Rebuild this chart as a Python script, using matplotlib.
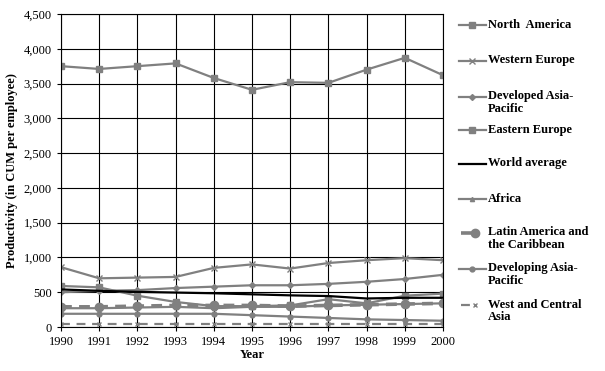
import matplotlib.pyplot as plt
from matplotlib.lines import Line2D
from matplotlib.ticker import FuncFormatter

years = list(range(1990, 2001))

north_america = [3750, 3710, 3750, 3790, 3580, 3410, 3520, 3510, 3700, 3870, 3620]
western_europe = [860, 700, 710, 720, 850, 900, 840, 920, 960, 990, 960]
developed_ap = [500, 520, 530, 560, 580, 600, 600, 620, 650, 690, 750]
eastern_europe = [590, 570, 450, 360, 300, 300, 310, 400, 340, 450, 480]
world_average = [540, 520, 505, 495, 485, 470, 455, 445, 410, 420, 420]
africa = [270, 270, 280, 290, 270, 290, 290, 310, 320, 330, 340]
latin_america = [290, 290, 300, 310, 310, 310, 300, 310, 320, 330, 340]
developing_ap = [190, 190, 190, 190, 190, 170, 150, 130, 110, 100, 90]
west_central_asia = [45, 45, 45, 45, 45, 45, 45, 45, 45, 45, 45]

labels = ['North  America', 'Western Europe', 'Developed Asia-\nPacific',
          'Eastern Europe', 'World average', 'Africa',
          'Latin America and\nthe Caribbean', 'Developing Asia-\nPacific',
          'West and Central\nAsia']

gray = '#808080'
# (values, color, linestyle, linewidth, marker, markersize)
series = [
    (north_america, gray, '-', 1.6, 's', 5),
    (western_europe, gray, '-', 1.6, 'x', 4),
    (developed_ap, gray, '-', 1.6, 'D', 3),
    (eastern_europe, gray, '-', 1.6, 's', 5),
    (world_average, 'black', '-', 1.6, None, 0),
    (africa, gray, '-', 1.6, '^', 3),
    (latin_america, gray, (0, (3, 2)), 2.6, 'o', 6),
    (developing_ap, gray, '-', 1.6, 'o', 3.5),
    (west_central_asia, gray, (0, (4, 3)), 1.6, 'x', 3),
]

plt.rcParams['font.family'] = ['Liberation Serif', 'DejaVu Serif']

fig = plt.figure(figsize=(6.05, 3.71), dpi=100)
ax = fig.add_axes([61/605, 44/371, 382/605, 313/371])

for vals, col, ls, lw, mk, ms in series:
    ax.plot(years, vals, color=col, linestyle=ls, linewidth=lw,
            marker=mk, markersize=ms, markeredgecolor=col, markerfacecolor=col)

ax.set_xlim(1990, 2000)
ax.set_ylim(0, 4500)
ax.set_xticks(years)
ax.set_yticks(range(0, 4501, 500))
ax.yaxis.set_major_formatter(FuncFormatter(lambda v, p: f'{int(v):,}'))
ax.grid(True, color='black', linewidth=0.8)
ax.set_axisbelow(True)
for s in ax.spines.values():
    s.set_color('black')
    s.set_linewidth(0.8)
ax.tick_params(direction='out', length=3, labelsize=9, color='black')
ax.set_xlabel('Year', fontsize=9, fontweight='bold', labelpad=1)
ax.set_ylabel('Productivity (in CUM per employee)', fontsize=9, fontweight='bold', labelpad=4)

# legend drawn by hand to follow the original even spacing
legend_y = [25, 61, 97, 130, 164, 199, 233, 269, 305]
for i, ((vals, col, ls, lw, mk, ms), lab, yp) in enumerate(zip(series, labels, legend_y)):
    yf = 1 - yp / 371
    if i in (6, 8):
        xs = [461/605, 475/605]
        every = [1]
    else:
        xs = [459/605, 472/605, 486/605]
        every = [1]
    fig.add_artist(Line2D(xs, [yf] * len(xs),
                          color=col, linestyle=ls, linewidth=lw,
                          marker=mk, markersize=ms, markevery=every,
                          markeredgecolor=col, markerfacecolor=col))
    fig.text(488/605, yf + 6.5/371, lab, fontsize=9, fontweight='bold',
             va='top', ha='left', linespacing=1.05)

fig.savefig('out.png', dpi=100)
